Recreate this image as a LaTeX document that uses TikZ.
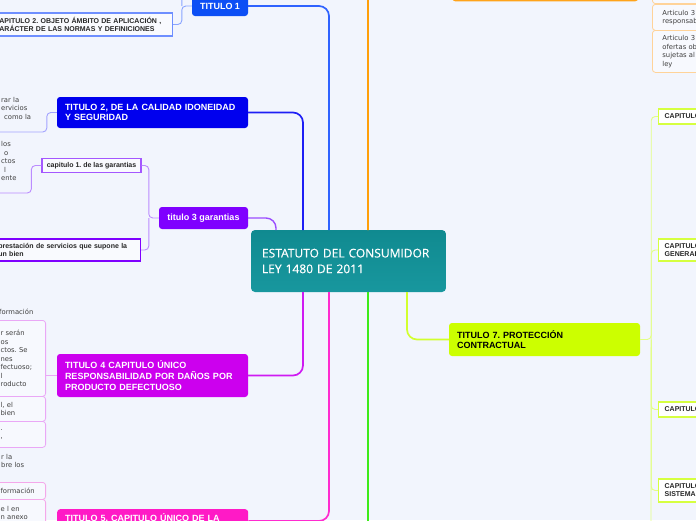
\documentclass[tikz,border=0pt]{standalone}
\usepackage{fontspec}
\setmainfont{Liberation Sans}
\newfontfamily\notefont{DejaVu Sans}
\newfontfamily\rootfont[FakeBold=0.5]{Open Sans}
\usetikzlibrary{positioning}
\frenchspacing
\definecolor{bg}{HTML}{F2F5FD}
\definecolor{rootA}{HTML}{108A90}
\definecolor{rootB}{HTML}{18979E}
\definecolor{tOne}{HTML}{0D4FF5}
\definecolor{tOneLine}{HTML}{2F62FF}
\definecolor{tOneTwig}{HTML}{89A4FF}
\definecolor{tOneBox}{HTML}{6F8FFF}
\definecolor{tTwo}{HTML}{0000EE}
\definecolor{tTwoLine}{HTML}{1E1EF5}
\definecolor{tTwoTwig}{HTML}{A3A3FF}
\definecolor{tThree}{HTML}{7F00FF}
\definecolor{tThreeLine}{HTML}{9B4DFF}
\definecolor{tThreeTwig}{HTML}{BB8CFF}
\definecolor{tThreeBox}{HTML}{A457FF}
\definecolor{tFour}{HTML}{CC00EE}
\definecolor{tFourLine}{HTML}{CF1AF2}
\definecolor{tFourTwig}{HTML}{EAA8F6}
\definecolor{tFive}{HTML}{FF1AC6}
\definecolor{tFiveLine}{HTML}{FF2BCF}
\definecolor{tFiveTwig}{HTML}{F4A8EA}
\definecolor{tSix}{HTML}{FFA31A}
\definecolor{tSixLine}{HTML}{FF9F0A}
\definecolor{tSixTwig}{HTML}{FFD399}
\definecolor{tSeven}{HTML}{CCFF00}
\definecolor{tSevenLine}{HTML}{D2FF2E}
\definecolor{tSevenTwig}{HTML}{E3FF85}
\definecolor{tSevenBox}{HTML}{D6FF40}
\definecolor{tEightLine}{HTML}{3DEB1A}

\begin{document}
\begin{tikzpicture}[x=1pt, y=-1pt,
  root/.style={rounded corners=4pt, top color=rootA, bottom color=rootB, text=white, align=left, inner xsep=11pt, inner ysep=0pt, font=\rootfont\fontsize{12}{15.7}\selectfont},
  topic/.style={rounded corners=3pt, text=white, align=left, inner xsep=8pt, inner ysep=0pt, font=\bfseries\fontsize{9}{10.6}\selectfont},
  sub/.style={draw, line width=1.3pt, fill=white!55!bg, text=black!85, align=left, inner xsep=4pt, inner ysep=0pt, font=\bfseries\fontsize{7}{8}\selectfont},
  leaf/.style={draw, line width=0.8pt, rounded corners=3pt, fill=white!40!bg, text=black!75, align=left, inner xsep=4pt, inner ysep=0pt, font=\notefont\fontsize{6.8}{8.5}\selectfont},
  note/.style={anchor=north west, inner sep=0pt, text=black!75, align=left, font=\notefont\fontsize{6.8}{8.5}\selectfont},
  branch/.style={line width=1.7pt, rounded corners=10pt},
  twig/.style={line width=0.9pt, rounded corners=4pt}]
\useasboundingbox (0,0) rectangle (696,520);
\fill[bg] (0,0) rectangle (696,520);

% root and main topics
\node[root, minimum width=195pt, minimum height=62pt, text width=173pt] (root) at (348.5,261) {ESTATUTO DEL CONSUMIDOR\\LEY 1480 DE 2011};
\node[topic, fill=tOne, minimum width=56pt, minimum height=20pt] (T1) at (220,6) {TITULO 1};
\node[topic, fill=tTwo, minimum width=191pt, minimum height=31pt, text width=175pt] (T2) at (152.5,112.5) {TITULO 2, DE LA CALIDAD IDONEIDAD\\Y SEGURIDAD};
\node[topic, fill=tThree, minimum width=89pt, minimum height=22pt, inner xsep=4pt] (T3) at (203.5,218) {titulo 3 garantias};
\node[topic, fill=tFour, minimum width=191pt, minimum height=43pt, text width=175pt] (T4) at (152.5,375.5) {TITULO 4 CAPITULO ÚNICO\\RESPONSABILIDAD POR DAÑOS POR\\PRODUCTO DEFECTUOSO};
\node[topic, fill=tFive, anchor=north west, text width=175pt, inner ysep=6pt, text height=6.5pt, text depth=30pt] (T5) at (57,509) {TITULO 5. CAPITULO ÚNICO DE LA};
\node[topic, fill=tSix, minimum width=186pt, minimum height=30pt, anchor=south west] (T6) at (452,1.5) {};
\node[topic, fill=tSeven, text=black, minimum width=191pt, minimum height=33pt, text width=175pt] (T7) at (544.5,339.5) {TITULO 7. PROTECCIÓN\\CONTRACTUAL};

% branches from the root
\coordinate (j1) at (329,230);
\coordinate (j2) at (303,230);
\coordinate (j3) at (276,230);
\coordinate (j6) at (368,230);
\coordinate (j4) at (303,292);
\coordinate (j5) at (329,292);
\coordinate (j8) at (368,292);
\coordinate (j7) at (407,292);
\coordinate (g8) at (368,530);
\draw[branch, tOneLine] (T1.east) -| (j1);
\draw[branch, tTwoLine] (T2.east) -| (j2);
\draw[branch, tThreeLine, line width=1.4pt] (T3.east) -| (j3);
\draw[branch, tSixLine] (j6) |- (T6.west);
\draw[branch, tFourLine] (j4) |- (T4.east);
\draw[branch, tFiveLine] (j5) |- ([yshift=-12pt]T5.north east);
\draw[branch, tEightLine] (j8) -- (g8);
\draw[branch, tSevenLine] (j7) |- (T7.west);

% titulo 1
\node[sub, draw=tOneBox, anchor=east, minimum height=23pt, text width=174pt] (C12) at (173,24.5) {CAPITULO 2. OBJETO ÁMBITO DE APLICACIÓN ,\\CARÁCTER DE LAS NORMAS Y DEFINICIONES};
\coordinate (up1) at (182,-10);
\draw[twig, tOneTwig] (T1.west) -- ++(-10,0) coordinate (s1) |- (C12.east);
\draw[twig, tOneTwig] (s1) -- (up1);

% titulo 2
\node[note] (N21) at (1,96.8) {rar la\\ervicios\\\hspace*{3pt}como la};
\coordinate (u21) at (-10,132);
\draw[twig, tTwoTwig] (T2.west) -- ++(-10,0) |- (u21);

% titulo 3
\node[sub, draw=tThreeBox, minimum width=99pt, minimum height=14.5pt, inner xsep=2pt] (C31) at (91.5,165.5) {capitulo 1. de las garantias};
\node[sub, draw=tThree, anchor=east, minimum height=22pt, text width=138pt] (C32) at (141,250) {prestación de servicios que supone la\\un bien};
\node[note] (N31) at (1,141.3) {los\\\hspace*{3pt}o\\ctos\\\hspace*{3pt}l\\ente};
\coordinate (u31) at (-10,193);
\draw[twig, tThreeTwig] (T3.west) -- ++(-10,0) coordinate (s3) |- (C31.east);
\draw[twig, tThreeTwig] (s3) |- (C32.east);
\draw[twig, tThreeTwig] (C31.west) -- ++(-10,0) |- (u31);

% titulo 4
\node[note] (N40) at (-1,309.3) {formación};
\node[leaf, draw=tFourTwig, anchor=north east, minimum height=76pt, text width=41pt] (B41) at (46,320) {r serán\\os\\ctos. Se\\nes\\fectuoso;\\l\\roducto};
\node[leaf, draw=tFourTwig, anchor=north east, minimum height=25pt, text width=41pt] (B42) at (46,396) {l, el\\bien};
\node[leaf, draw=tFourTwig, anchor=north east, minimum height=26pt, text width=41pt] (B43) at (46,421) {.\\,};
\node[note] (N44) at (1,453.8) {r la\\bre los};
\draw[twig, tFourTwig] (T4.west) -- (T4.west -| B41.east);

% titulo 5
\node[leaf, draw=tFiveTwig, anchor=north east, minimum height=17pt, text width=41pt] (B51) at (46,482) {formación};
\node[leaf, draw=tFiveTwig, anchor=north east, minimum height=27pt, text width=41pt] (B52) at (46,499) {e l en\\n anexo};
\draw[twig, tFiveTwig] (T5.west) -- (T5.west -| B52.east);

% titulo 6
\node[leaf, draw=tSixTwig, anchor=south west, minimum width=60pt, minimum height=20pt] (O1) at (652,4) {};
\node[leaf, draw=tSixTwig, anchor=north west, minimum height=26pt, text width=60pt, inner xsep=10pt] (O2) at (652,4) {Articulo 3\\responsab};
\node[leaf, draw=tSixTwig, anchor=north west, minimum height=42pt, text width=60pt, inner xsep=10pt] (O3) at (652,30) {Articulo 3\\ofertas ob\\sujetas al\\ley};
\draw[twig, tSixTwig] (T6.east) -- (T6.east -| O1.west);

% titulo 7
\node[sub, draw=tSevenBox, fill=white, anchor=west, minimum height=15pt, text width=60pt, inner xsep=6pt] (K1) at (658,116.5) {CAPITULO};
\node[sub, draw=tSevenBox, fill=white, anchor=west, minimum height=22pt, text width=60pt, inner xsep=6pt] (K2) at (658,250) {CAPITULO\\GENERAL};
\node[sub, draw=tSevenBox, fill=white, anchor=west, minimum height=15pt, text width=60pt, inner xsep=6pt] (K3) at (658,409.5) {CAPITULO};
\node[sub, draw=tSevenBox, fill=white, anchor=west, minimum height=23pt, text width=60pt, inner xsep=6pt] (K4) at (658,490.5) {CAPITULO\\SISTEMA};
\coordinate (dn7) at (651,530);
\draw[twig, tSevenTwig] (T7.east) -- ++(11,0) coordinate (s7) |- (K1.west);
\draw[twig, tSevenTwig] (s7) |- (K2.west);
\draw[twig, tSevenTwig] (s7) |- (K3.west);
\draw[twig, tSevenTwig] (s7) |- (K4.west);
\draw[twig, tSevenTwig] (s7) -- (dn7);
\end{tikzpicture}
\end{document}
